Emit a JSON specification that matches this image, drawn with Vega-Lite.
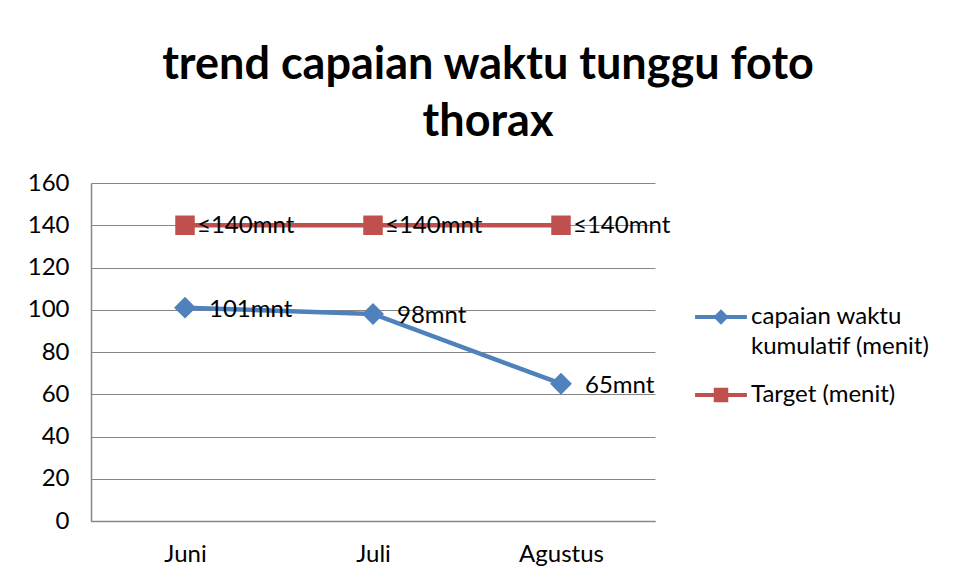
{
  "$schema": "https://vega.github.io/schema/vega-lite/v6.json",
  "width": 564,
  "height": 338,
  "autosize": "none",
  "padding": {"left": 91, "top": 183, "right": 311, "bottom": 62},
  "background": "white",
  "title": {
    "text": ["trend capaian waktu tunggu foto", "thorax"],
    "font": "Lato",
    "fontSize": 45,
    "fontWeight": "bold",
    "color": "#000000",
    "lineHeight": 57,
    "anchor": "middle",
    "dx": 115,
    "offset": 26
  },
  "data": {
    "values": [
      {"bulan": "Juni", "seri": "capaian waktu kumulatif (menit)", "nilai": 101, "label": "101mnt"},
      {"bulan": "Juli", "seri": "capaian waktu kumulatif (menit)", "nilai": 98, "label": "98mnt"},
      {"bulan": "Agustus", "seri": "capaian waktu kumulatif (menit)", "nilai": 65, "label": "65mnt"},
      {"bulan": "Juni", "seri": "Target (menit)", "nilai": 140, "label": "≤140mnt"},
      {"bulan": "Juli", "seri": "Target (menit)", "nilai": 140, "label": "≤140mnt"},
      {"bulan": "Agustus", "seri": "Target (menit)", "nilai": 140, "label": "≤140mnt"}
    ]
  },
  "encoding": {
    "x": {
      "field": "bulan",
      "type": "nominal",
      "sort": ["Juni", "Juli", "Agustus"],
      "scale": {"type": "point", "padding": 0.5},
      "axis": {
        "title": null,
        "labelAngle": 0,
        "labelFont": "Lato",
        "labelFontSize": 24,
        "labelColor": "#000000",
        "labelPadding": 21,
        "ticks": false,
        "domainColor": "#868686",
        "domainWidth": 1.5,
        "grid": false
      }
    },
    "y": {
      "field": "nilai",
      "type": "quantitative",
      "scale": {"domain": [0, 160], "nice": false},
      "axis": {
        "title": null,
        "values": [0, 20, 40, 60, 80, 100, 120, 140, 160],
        "labelFont": "Lato",
        "labelFontSize": 24,
        "labelColor": "#000000",
        "labelPadding": 22,
        "ticks": false,
        "domainColor": "#868686",
        "domainWidth": 1.5,
        "gridColor": "#868686",
        "gridWidth": 1.2
      }
    }
  },
  "layer": [
    {
      "mark": {"type": "line", "strokeWidth": 4.5},
      "encoding": {
        "color": {
          "field": "seri",
          "type": "nominal",
          "scale": {"domain": ["capaian waktu kumulatif (menit)", "Target (menit)"], "range": ["#4F81BD", "#C0504D"]},
          "legend": {"title": null, "labelExpr": "datum.label == 'capaian waktu kumulatif (menit)' ? ['capaian waktu', 'kumulatif (menit)'] : datum.label", "encode": {"labels": {"update": {"lineHeight": {"value": 30}}}}}
        }
      }
    },
    {
      "mark": {"type": "point", "filled": true, "opacity": 0, "size": 430},
      "encoding": {
        "color": {"field": "seri", "type": "nominal", "legend": {"title": null, "labelExpr": "datum.label == 'capaian waktu kumulatif (menit)' ? ['capaian waktu', 'kumulatif (menit)'] : datum.label", "encode": {"labels": {"update": {"lineHeight": {"value": 30}}}}}},
        "shape": {
          "field": "seri",
          "type": "nominal",
          "scale": {
            "domain": ["capaian waktu kumulatif (menit)", "Target (menit)"],
            "range": [
              "M-2.5,-0.2H2.5V0.2H-2.5Z M0,-0.75L0.75,0L0,0.75L-0.75,0Z",
              "M-2.5,-0.2H2.5V0.2H-2.5Z M-0.7,-0.7H0.7V0.7H-0.7Z"
            ]
          },
          "legend": {"title": null, "labelExpr": "datum.label == 'capaian waktu kumulatif (menit)' ? ['capaian waktu', 'kumulatif (menit)'] : datum.label", "encode": {"labels": {"update": {"lineHeight": {"value": 30}}}}}
        }
      }
    },
    {
      "transform": [{"filter": "datum.seri == 'capaian waktu kumulatif (menit)'"}],
      "mark": {"type": "point", "filled": true, "opacity": 1, "shape": "diamond", "size": 480},
      "encoding": {"color": {"field": "seri", "type": "nominal", "legend": {"title": null, "labelExpr": "datum.label == 'capaian waktu kumulatif (menit)' ? ['capaian waktu', 'kumulatif (menit)'] : datum.label", "encode": {"labels": {"update": {"lineHeight": {"value": 30}}}}}}}
    },
    {
      "transform": [{"filter": "datum.seri == 'Target (menit)'"}],
      "mark": {"type": "point", "filled": true, "opacity": 1, "shape": "square", "size": 380},
      "encoding": {"color": {"field": "seri", "type": "nominal", "legend": {"title": null, "labelExpr": "datum.label == 'capaian waktu kumulatif (menit)' ? ['capaian waktu', 'kumulatif (menit)'] : datum.label", "encode": {"labels": {"update": {"lineHeight": {"value": 30}}}}}}}
    },
    {
      "transform": [{"filter": "datum.seri == 'capaian waktu kumulatif (menit)'"}],
      "mark": {"type": "text", "align": "left", "baseline": "middle", "dx": 24, "dy": 2, "font": "Lato", "fontSize": 24, "color": "#000000"},
      "encoding": {"text": {"field": "label"}}
    },
    {
      "transform": [{"filter": "datum.seri == 'Target (menit)'"}],
      "mark": {"type": "text", "align": "left", "baseline": "middle", "dx": 12, "dy": 1, "font": "Lato", "fontSize": 24, "color": "#000000"},
      "encoding": {"text": {"field": "label"}}
    }
  ],
  "config": {
    "view": {"stroke": null},
    "legend": {
      "orient": "none",
      "legendX": 618,
      "legendY": 122,
      "labelFont": "Lato",
      "labelFontSize": 24,
      "labelColor": "#000000",
      "labelLimit": 300,
      "labelOffset": 18,
      "rowPadding": 24,
      "symbolSize": 430,
      "symbolStrokeWidth": 0,
      "symbolOpacity": 1
    }
  }
}
